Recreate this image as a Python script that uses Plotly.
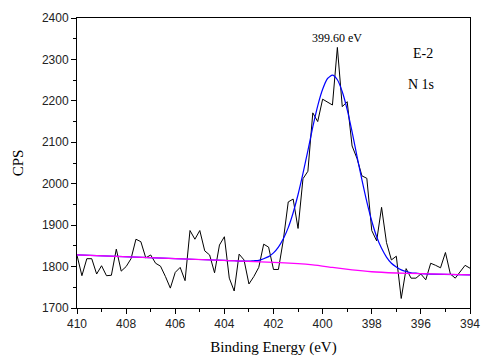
import plotly.graph_objects as go

# Raw XPS N 1s scan, 410 -> 394 eV in 0.2 eV steps
binding_energy = [round(410 - 0.2 * i, 1) for i in range(81)]
cps = [1827, 1778, 1819, 1819, 1782, 1802, 1778, 1779, 1842, 1789,
       1800, 1819, 1866, 1860, 1821, 1828, 1808, 1801, 1776, 1748,
       1786, 1798, 1766, 1887, 1866, 1887, 1838, 1828, 1785, 1852,
       1872, 1772, 1741, 1830, 1816, 1758, 1776, 1798, 1854, 1847,
       1793, 1793, 1864, 1956, 1963, 1892, 2012, 2030, 2171, 2150,
       2204, 2198, 2190, 2329, 2186, 2198, 2091, 2061, 2019, 2013,
       1887, 1862, 1943, 1858, 1816, 1825, 1723, 1795, 1772, 1772,
       1782, 1768, 1808, 1803, 1797, 1834, 1782, 1772, 1788, 1803,
       1796]

# Fitted envelope (blue)
fit_x = [410, 406, 404, 403.6, 403.4, 403.2, 403.0, 402.8, 402.6, 402.4, 402.2,
         402.0, 401.8, 401.6, 401.4, 401.2, 401.0, 400.8, 400.6, 400.4, 400.2,
         400.0, 399.8, 399.6, 399.4, 399.2, 399.0, 398.8, 398.6, 398.4, 398.2,
         398.0, 397.8, 397.6, 397.4, 397.2, 397.0, 396.8, 396.6, 396.4, 396.2,
         396.0, 395.6, 394]
fit_y = [1828, 1819, 1815, 1814, 1813, 1813, 1813, 1814, 1815, 1819, 1824,
         1833, 1847, 1867, 1894, 1930, 1974, 2025, 2080, 2137, 2188,
         2228, 2254, 2262, 2251, 2222, 2179, 2125, 2066, 2009, 1956,
         1910, 1872, 1844, 1823, 1808, 1799, 1792, 1788, 1785, 1784,
         1783, 1782, 1780]

# Background (magenta)
bg_x = [410, 406, 402, 401, 400.4, 399.6, 398.8, 398, 397, 396, 394]
bg_y = [1828, 1819, 1810, 1807, 1804, 1798, 1792, 1787.5, 1784.5, 1782.8, 1780]

fig = go.Figure()
fig.add_trace(go.Scatter(x=binding_energy, y=cps, mode="lines",
                         line=dict(color="black", width=1), showlegend=False))
fig.add_trace(go.Scatter(x=fit_x, y=fit_y, mode="lines",
                         line=dict(color="#0000ff", width=1.2, shape="spline", smoothing=0.6),
                         showlegend=False))
fig.add_trace(go.Scatter(x=bg_x, y=bg_y, mode="lines",
                         line=dict(color="#ff00ff", width=1.3, shape="spline", smoothing=0.6),
                         showlegend=False))

fig.add_annotation(x=399.42, y=2352, xref="x", yref="y", text="399.60 eV",
                   showarrow=False, font=dict(family="Liberation Serif", size=12, color="black"))
fig.add_annotation(x=0.911, y=0.91, xref="paper", yref="paper", text="E-2",
                   showarrow=False, font=dict(family="Liberation Serif", size=14, color="black"))
fig.add_annotation(x=0.914, y=0.803, xref="paper", yref="paper", text="N 1s",
                   showarrow=False, font=dict(family="Liberation Serif", size=14, color="black"))

axis_common = dict(showgrid=False, zeroline=False, showline=True, linecolor="black",
                   linewidth=1, mirror=True, ticks="outside", ticklen=5, tickwidth=1,
                   tickcolor="black", automargin=False,
                   tickfont=dict(family="Liberation Sans", size=12, color="#222"))

fig.update_xaxes(range=[410, 394], tickmode="linear", tick0=394, dtick=2,
                 minor=dict(ticks="outside", ticklen=3, dtick=1, tick0=394, tickcolor="black"),
                 title=dict(text="Binding Energy (eV)", standoff=14,
                            font=dict(family="Liberation Serif", size=15, color="black")),
                 **axis_common)
fig.update_yaxes(range=[1700, 2400], tickmode="linear", tick0=1700, dtick=100,
                 minor=dict(ticks="outside", ticklen=3, dtick=50, tick0=1700, tickcolor="black"),
                 title=dict(text="CPS", standoff=14,
                            font=dict(family="Liberation Serif", size=15, color="black")),
                 **axis_common)

fig.update_layout(width=481, height=356, margin=dict(l=77, r=11, t=18, b=48),
                  plot_bgcolor="white", paper_bgcolor="white")

fig.write_html("out.html")
